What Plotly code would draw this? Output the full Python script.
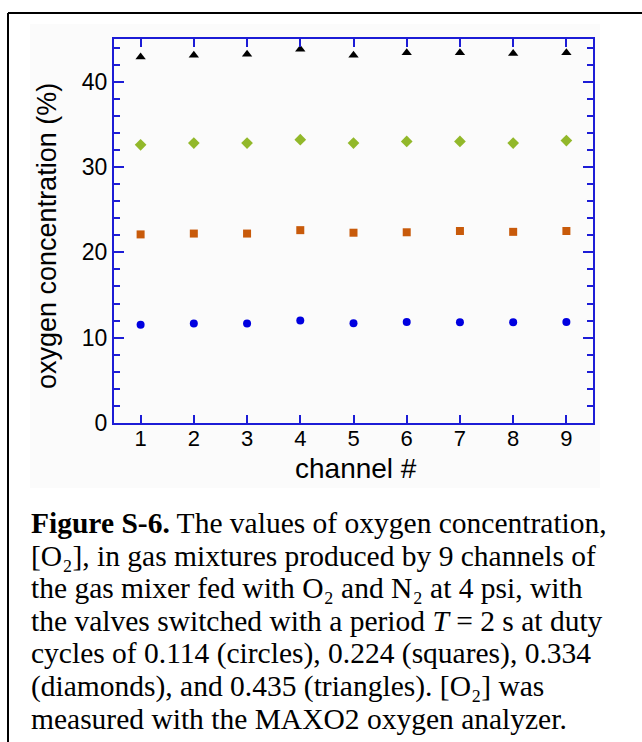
import plotly.graph_objects as go

channels = [1, 2, 3, 4, 5, 6, 7, 8, 9]
circles_0114 = [11.5, 11.65, 11.65, 12.0, 11.7, 11.85, 11.8, 11.8, 11.85]
squares_0224 = [22.1, 22.2, 22.2, 22.6, 22.3, 22.35, 22.5, 22.4, 22.5]
diamonds_0334 = [32.6, 32.8, 32.8, 33.2, 32.8, 33.0, 33.0, 32.8, 33.1]
triangles_0435 = [42.9, 43.1, 43.2, 43.8, 43.1, 43.4, 43.4, 43.3, 43.4]

x_tick_labels = ["1", "2", "3", "4", "5", "6", "7", "8", "9"]
y_tick_values = [0, 10, 20, 30, 40]

x_title = "channel #"
y_title = "oxygen concentration (%)"
caption_lines = [
    "<b>Figure S-6.</b> The values of oxygen concentration,",
    "[O\u2082], in gas mixtures produced by 9 channels of",
    "the gas mixer fed with O\u2082 and N\u2082 at 4 psi, with",
    "the valves switched with a period <i>T</i> = 2 s at duty",
    "cycles of 0.114 (circles), 0.224 (squares), 0.334",
    "(diamonds), and 0.435 (triangles). [O\u2082] was",
    "measured with the MAXO2 oxygen analyzer.",
]

W, H = 642, 742
L, R, T, B = 114, 593, 39, 423
AX = "#1c1cd6"

def px(x):
    return (x - L) / (R - L)

def py(y):
    return (B - y) / (B - T)

fig = go.Figure()
series = [
    (circles_0114, "circle", "#0000e0", 8),
    (squares_0224, "square", "#c85a0a", 8),
    (diamonds_0334, "diamond", "#92b82a", 9),
    (triangles_0435, "triangle-up", "#000000", 9),
]
for vals, sym, col, sz in series:
    fig.add_trace(go.Scatter(x=channels, y=vals, mode="markers",
                             marker=dict(symbol=sym, color=col, size=sz, line=dict(width=0)),
                             showlegend=False))

fig.update_xaxes(range=[0.5, 9.5], tickvals=channels, ticktext=x_tick_labels,
                 ticks="inside", ticklen=8, tickwidth=2, tickcolor=AX,
                 showline=True, linecolor=AX, linewidth=2, mirror="allticks",
                 showgrid=False, zeroline=False, ticklabelstandoff=-5,
                 tickfont=dict(family="Liberation Sans, Arial", size=22, color="black"))
fig.update_yaxes(range=[0, 45], tickvals=y_tick_values,
                 ticks="inside", ticklen=10, tickwidth=2, tickcolor=AX,
                 minor=dict(dtick=2, tick0=0, ticks="inside", ticklen=6, tickwidth=2, tickcolor=AX),
                 showline=True, linecolor=AX, linewidth=2, mirror="allticks",
                 showgrid=False, zeroline=False,
                 tickfont=dict(family="Liberation Sans, Arial", size=23, color="black"))

shapes = [
    dict(type="rect", xref="paper", yref="paper", layer="below",
         x0=px(30), x1=px(600), y0=py(488), y1=py(24),
         fillcolor="#fbfbfb", line=dict(width=0)),
    dict(type="line", xref="paper", yref="paper", x0=px(8), x1=px(660), y0=py(13), y1=py(13),
         line=dict(color="black", width=2)),
    dict(type="line", xref="paper", yref="paper", x0=px(8), x1=px(8), y0=py(13), y1=py(760),
         line=dict(color="black", width=2)),
]

annotations = [
    dict(text=y_title, xref="paper", yref="paper", x=px(47), y=py(236), textangle=-90,
         showarrow=False, xanchor="center", yanchor="middle",
         font=dict(family="Liberation Sans, Arial", size=27, color="black")),
    dict(text=x_title, xref="paper", yref="paper", x=px(356), y=py(468),
         showarrow=False, xanchor="center", yanchor="middle",
         font=dict(family="Liberation Sans, Arial", size=28, color="black")),
]
for i, line in enumerate(caption_lines):
    annotations.append(dict(text=line, xref="paper", yref="paper", x=px(29), y=py(523 + i * 32.7),
                            showarrow=False, xanchor="left", yanchor="middle", align="left",
                            font=dict(family="Liberation Serif, Times New Roman", size=29.5, color="black")))

fig.update_layout(width=W, height=H, autosize=False,
                  margin=dict(l=L, r=W - R, t=T, b=H - B, pad=0),
                  paper_bgcolor="white", plot_bgcolor="white",
                  shapes=shapes, annotations=annotations)

fig.write_html("out.html")
